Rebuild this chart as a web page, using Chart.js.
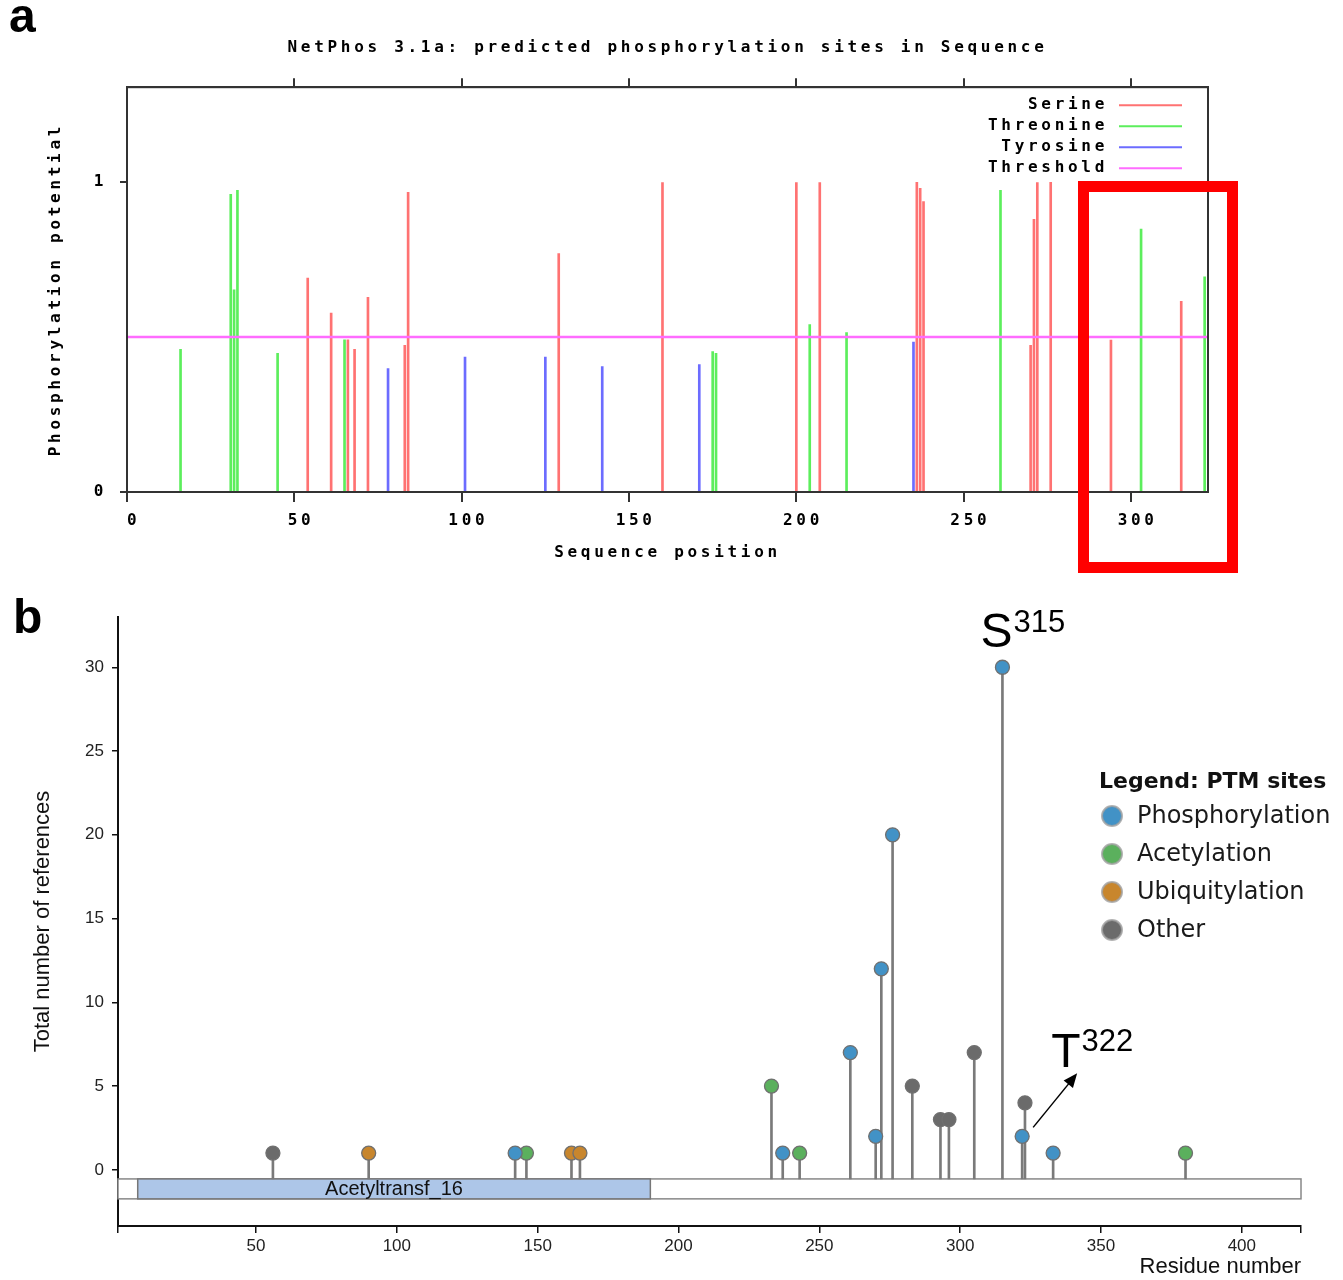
<!DOCTYPE html>
<html>
<head>
<meta charset="utf-8">
<script src="https://cdn.jsdelivr.net/npm/chart.js@4.4.1/dist/chart.umd.min.js"></script>
<style>
  body { margin: 0; background: #fff; }
  #page { position: relative; width: 1343px; height: 1280px; overflow: hidden; background: #fff; }
  canvas { position: absolute; left: 0; }
  #phos { top: 0; }
  #ptm { top: 580px; }
  .tag { position: absolute; font: bold 48px "Liberation Sans", Arial, sans-serif; line-height: 48px; color: #000; }
  #hilite { position: absolute; left: 1078px; top: 181px; width: 160px; height: 392px; border: 11px solid #ff0000; box-sizing: border-box; }
</style>
</head>
<body>
<div id="page">
  <canvas id="phos" width="1343" height="580"></canvas>
  <canvas id="ptm" width="1343" height="700"></canvas>
  <div class="tag" style="left:9px; top:-8px;">a</div>
  <div class="tag" style="left:13px; top:593px;">b</div>
  <div id="hilite"></div>
</div>
<script>
// ---- panel a : NetPhos predictions ----
const serinePos = [54, 61, 66, 68, 72, 83, 84, 129, 160, 200, 207, 236, 237, 238, 270, 271, 272, 276, 294, 315];
const serineScore = [0.69, 0.577, 0.491, 0.46, 0.628, 0.473, 0.967, 0.769, 0.998, 0.998, 0.998, 0.999, 0.98, 0.937, 0.473, 0.88, 0.998, 0.999, 0.49, 0.615];
const threoninePos = [16, 31, 32, 33, 45, 65, 175, 176, 204, 215, 261, 303, 322];
const threonineScore = [0.46, 0.96, 0.652, 0.973, 0.447, 0.491, 0.453, 0.447, 0.54, 0.514, 0.973, 0.848, 0.694];
const tyrosinePos = [78, 101, 125, 142, 171, 235];
const tyrosineScore = [0.398, 0.435, 0.435, 0.405, 0.411, 0.484];
const threshold = 0.5;
const seqLength = 323;
const seqTicks = [0, 50, 100, 150, 200, 250, 300];
const potentialTicks = [0, 1];

// ---- panel b : PTM sites ----
const ptmTypes = ['Phosphorylation', 'Acetylation', 'Ubiquitylation', 'Other'];
const ptmColors = ['#4292c6', '#5bb05d', '#c8862d', '#6b6b6b'];
const sitePos = [56, 90, 142, 146, 162, 165, 233, 237, 243, 261, 270, 272, 276, 283, 293, 296, 305, 315, 322, 323, 333, 380];
const siteRefs = [1, 1, 1, 1, 1, 1, 5, 1, 1, 7, 2, 12, 20, 5, 3, 3, 7, 30, 2, 4, 1, 1];
const siteType = ['Other', 'Ubiquitylation', 'Phosphorylation', 'Acetylation', 'Ubiquitylation', 'Ubiquitylation',
  'Acetylation', 'Phosphorylation', 'Acetylation', 'Phosphorylation', 'Phosphorylation', 'Phosphorylation',
  'Phosphorylation', 'Other', 'Other', 'Other', 'Other', 'Phosphorylation', 'Phosphorylation', 'Other',
  'Phosphorylation', 'Acetylation'];
const domainNames = ['Acetyltransf_16'];
const domainStart = [8];
const domainEnd = [190];
const proteinLength = 421;
const residueTicks = [1, 50, 100, 150, 200, 250, 300, 350, 400, 421];
const refTicks = [0, 5, 10, 15, 20, 25, 30];
const calloutPos = [315, 322];
const calloutRes = ['S', 'T'];

const mono = { family: '"DejaVu Sans Mono", monospace', size: 16, weight: 'bold' };
const sans = '"Liberation Sans", Arial, sans-serif';

function stems(label, pos, val, color) {
  return {
    type: 'bar', label: label,
    data: pos.map((p, i) => ({ x: p, y: val[i] })),
    backgroundColor: color, borderColor: color,
    barThickness: 2, grouped: false, order: 1
  };
}

const spacing = {
  id: 'spacing',
  beforeDraw(chart) { chart.ctx.letterSpacing = '3.7px'; }
};

const frameA = {
  id: 'frameA',
  afterDraw(chart) {
    const { ctx, chartArea: a } = chart;
    ctx.save();
    ctx.strokeStyle = '#333';
    ctx.lineWidth = 2;
    ctx.strokeRect(a.left, a.top, a.right - a.left, a.bottom - a.top);
    // legend: label on the left, line sample on the right
    ctx.font = 'bold 16px "DejaVu Sans Mono", monospace';
    ctx.textAlign = 'right';
    ctx.textBaseline = 'middle';
    chart.data.datasets.forEach((ds, i) => {
      const y = a.top + 18 + i * 21;
      ctx.fillStyle = '#000';
      ctx.fillText(ds.label, a.right - 100, y);
      ctx.strokeStyle = ds.borderColor;
      ctx.lineWidth = 2;
      ctx.beginPath();
      ctx.moveTo(a.right - 89, y);
      ctx.lineTo(a.right - 26, y);
      ctx.stroke();
    });
    ctx.restore();
  }
};

new Chart(document.getElementById('phos'), {
  type: 'bar',
  data: {
    datasets: [
      stems('Serine', serinePos, serineScore, '#ff7272'),
      stems('Threonine', threoninePos, threonineScore, '#5cee5c'),
      stems('Tyrosine', tyrosinePos, tyrosineScore, '#6c6cff'),
      {
        type: 'line', label: 'Threshold',
        data: [{ x: 0, y: threshold }, { x: seqLength, y: threshold }],
        borderColor: '#ff6cff', borderWidth: 2.5, pointRadius: 0, order: 0
      }
    ]
  },
  options: {
    responsive: false,
    animation: false,
    layout: { padding: { left: 0, right: 135, top: 0, bottom: 0 } },
    plugins: {
      legend: { display: false },
      tooltip: { enabled: false },
      title: {
        display: true, fullSize: false,
        text: 'NetPhos 3.1a: predicted phosphorylation sites in Sequence',
        color: '#000', font: mono, padding: { top: 38, bottom: 10 }
      }
    },
    scales: {
      x: {
        type: 'linear', position: 'bottom', min: 0, max: seqLength, offset: false,
        afterBuildTicks: s => { s.ticks = seqTicks.map(v => ({ value: v })); },
        afterFit: s => { s.height = 88; },
        grid: { drawOnChartArea: false, offset: false, tickLength: 10, color: '#333', lineWidth: 2 },
        border: { color: '#333', width: 2 },
        ticks: { color: '#000', font: mono, padding: 9, maxRotation: 0, callback: v => ' ' + v },
        title: { display: true, text: 'Sequence position', color: '#000', font: mono, padding: { bottom: 18 } }
      },
      x2: {
        type: 'linear', axis: 'x', position: 'top', min: 0, max: seqLength, offset: false,
        afterBuildTicks: s => { s.ticks = seqTicks.slice(1).map(v => ({ value: v })); },
        afterFit: s => { s.height = 20; },
        grid: { drawOnChartArea: false, offset: false, tickLength: 9, color: '#333', lineWidth: 2 },
        border: { color: '#333', width: 2 },
        ticks: { display: false }
      },
      y: {
        type: 'linear', min: 0, max: 1.306,
        afterBuildTicks: s => { s.ticks = potentialTicks.map(v => ({ value: v })); },
        afterFit: s => { s.width = 127; },
        grid: { drawOnChartArea: false, tickLength: 7, color: '#333', lineWidth: 2 },
        border: { color: '#333', width: 2 },
        ticks: { color: '#000', font: mono, padding: 13 },
        title: { display: true, text: 'Phosphorylation potential', color: '#000', font: mono, padding: { top: 46 } }
      }
    }
  },
  plugins: [spacing, frameA]
});

// ---- panel b drawing helpers ----
const trackTop = -0.54, trackBottom = -1.73;

const proteinTrack = {
  id: 'proteinTrack',
  beforeDatasetsDraw(chart) {
    const { ctx, scales: { x, y } } = chart;
    const t = y.getPixelForValue(trackTop), b = y.getPixelForValue(trackBottom);
    const x0 = x.getPixelForValue(1), x1 = x.getPixelForValue(proteinLength);
    ctx.save();
    ctx.lineWidth = 1.5;
    ctx.strokeStyle = '#888';
    ctx.fillStyle = '#fff';
    ctx.fillRect(x0, t, x1 - x0, b - t);
    ctx.strokeRect(x0, t, x1 - x0, b - t);
    domainNames.forEach((name, i) => {
      const d0 = x.getPixelForValue(domainStart[i]), d1 = x.getPixelForValue(domainEnd[i]);
      ctx.fillStyle = '#adc6e8';
      ctx.fillRect(d0, t, d1 - d0, b - t);
      ctx.strokeStyle = '#777';
      ctx.strokeRect(d0, t, d1 - d0, b - t);
      ctx.fillStyle = '#111';
      ctx.font = '20px ' + sans;
      ctx.textAlign = 'center';
      ctx.textBaseline = 'middle';
      ctx.fillText(name, (d0 + d1) / 2, (t + b) / 2 + 1);
    });
    ctx.restore();
  }
};

const callouts = {
  id: 'callouts',
  afterDatasetsDraw(chart) {
    const { ctx, scales: { x, y } } = chart;
    ctx.save();
    ctx.fillStyle = '#000';
    ctx.strokeStyle = '#000';
    ctx.textAlign = 'left';
    ctx.textBaseline = 'alphabetic';
    calloutPos.forEach((pos, k) => {
      const idx = sitePos.indexOf(pos);
      const px = x.getPixelForValue(pos), py = y.getPixelForValue(siteRefs[idx]);
      let lx, by, up;
      if (k === 0) { lx = px - 22; by = py - 20; up = 15; }
      else { lx = px + 29; by = py - 69; up = 16; }
      ctx.font = '48px ' + sans;
      ctx.fillText(calloutRes[k], lx, by);
      const w = ctx.measureText(calloutRes[k]).width;
      ctx.font = '31px ' + sans;
      ctx.fillText(String(pos), lx + w + 1, by - up);
      if (k === 1) {
        const ax = px + 11, ay = py - 9, bx = px + 55, bY = py - 63;
        const ang = Math.atan2(bY - ay, bx - ax);
        ctx.lineWidth = 1.5;
        ctx.beginPath();
        ctx.moveTo(ax, ay);
        ctx.lineTo(bx - 10 * Math.cos(ang), bY - 10 * Math.sin(ang));
        ctx.stroke();
        ctx.beginPath();
        ctx.moveTo(bx, bY);
        ctx.lineTo(bx - 14 * Math.cos(ang) + 6 * Math.sin(ang), bY - 14 * Math.sin(ang) - 6 * Math.cos(ang));
        ctx.lineTo(bx - 14 * Math.cos(ang) - 6 * Math.sin(ang), bY - 14 * Math.sin(ang) + 6 * Math.cos(ang));
        ctx.closePath();
        ctx.fill();
      }
    });
    ctx.restore();
  }
};

const ptmLegend = {
  id: 'ptmLegend',
  afterDraw(chart) {
    const ctx = chart.ctx;
    ctx.save();
    ctx.textAlign = 'left';
    ctx.textBaseline = 'middle';
    ctx.fillStyle = '#111';
    ctx.font = 'bold 22px "DejaVu Sans", Verdana, sans-serif';
    ctx.fillText('Legend: PTM sites', 1099, 202);
    ctx.font = '24px "DejaVu Sans", Verdana, sans-serif';
    chart.data.datasets.filter(ds => ds.type === 'scatter').forEach((ds, i) => {
      const y = 236 + i * 38;
      ctx.beginPath();
      ctx.arc(1112, y, 10, 0, Math.PI * 2);
      ctx.fillStyle = ds.pointBackgroundColor;
      ctx.fill();
      ctx.lineWidth = 2;
      ctx.strokeStyle = 'rgba(160,160,160,0.8)';
      ctx.stroke();
      ctx.fillStyle = '#1a1a1a';
      ctx.fillText(ds.label, 1137, y + 1);
    });
    ctx.restore();
  }
};

const dotSets = ptmTypes.map((t, k) => ({
  type: 'scatter', label: t,
  data: sitePos.map((p, i) => ({ x: p, y: siteRefs[i], t: siteType[i] })).filter(d => d.t === t),
  pointRadius: 7, pointHoverRadius: 7,
  pointBackgroundColor: ptmColors[k], pointBorderColor: '#707070', pointBorderWidth: 1.3,
  showLine: false, order: 1
}));

new Chart(document.getElementById('ptm'), {
  type: 'bar',
  data: {
    datasets: [
      {
        type: 'bar', label: 'stems',
        data: sitePos.map((p, i) => ({ x: p, y: siteRefs[i] })),
        base: trackTop, backgroundColor: '#7a7a7a', barThickness: 2, grouped: false, order: 2
      },
      ...dotSets
    ]
  },
  options: {
    responsive: false,
    animation: false,
    layout: { padding: { left: 0, right: 42, top: 37, bottom: 0 } },
    plugins: { legend: { display: false }, tooltip: { enabled: false } },
    scales: {
      x: {
        type: 'linear', min: 1, max: proteinLength, offset: false,
        afterBuildTicks: s => { s.ticks = residueTicks.map(v => ({ value: v })); },
        afterFit: s => { s.height = 54; },
        grid: { drawOnChartArea: false, offset: false, tickLength: 7, color: '#111', lineWidth: 1.5 },
        border: { color: '#111', width: 2 },
        ticks: {
          color: '#222', font: { family: sans, size: 17 }, padding: 3, maxRotation: 0,
          callback: v => (v === 1 || v === proteinLength) ? '' : v
        },
        title: { display: true, align: 'end', text: 'Residue number', color: '#111', font: { family: sans, size: 22 }, padding: { top: 0, bottom: 0 } }
      },
      y: {
        type: 'linear', min: -3.35, max: 33,
        afterBuildTicks: s => { s.ticks = refTicks.map(v => ({ value: v })); },
        afterFit: s => { s.width = 118; },
        grid: { drawOnChartArea: false, tickLength: 6, color: '#111', lineWidth: 1.5 },
        border: { color: '#111', width: 2 },
        ticks: { color: '#222', font: { family: sans, size: 17 }, padding: 8 },
        title: { display: true, text: 'Total number of references', color: '#111', font: { family: sans, size: 22 }, padding: { top: 30 } }
      }
    }
  },
  plugins: [proteinTrack, callouts, ptmLegend]
});
</script>
</body>
</html>
